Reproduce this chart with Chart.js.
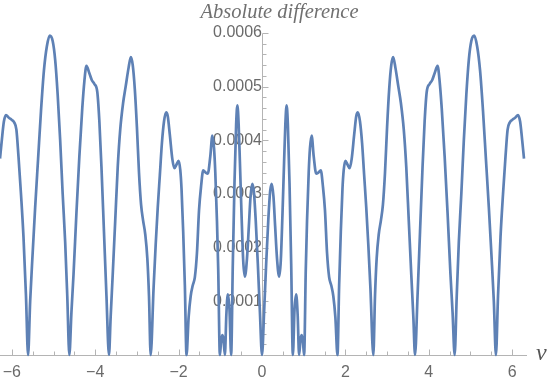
<!DOCTYPE html>
<html>
<head>
<meta charset="utf-8">
<title>Absolute difference</title>
<script src="https://cdn.jsdelivr.net/npm/chart.js@4.4.1/dist/chart.umd.min.js"></script>
<style>
  html, body { margin: 0; padding: 0; background: #ffffff; }
  canvas { display: block; }
</style>
</head>
<body>
<canvas id="graf" width="552" height="382"></canvas>
<script>
// nu values (x) and the absolute difference (y)
const nu = [
  -6.283, -6.24, -6.19, -6.14, -6.07, -6.00, -5.94, -5.89, -5.84, -5.78, -5.72, -5.66,
  -5.61, -5.56, -5.50, -5.44, -5.37, -5.30, -5.23, -5.16, -5.09, -5.02, -4.96, -4.90,
  -4.84, -4.78, -4.72, -4.67, -4.62, -4.57, -4.52, -4.45, -4.38, -4.31, -4.26, -4.21,
  -4.14, -4.08, -4.02, -3.95, -3.90, -3.85, -3.79, -3.73, -3.67, -3.63, -3.58, -3.52,
  -3.46, -3.40, -3.33, -3.27, -3.20, -3.145, -3.10, -3.05, -3.00, -2.95, -2.90, -2.85,
  -2.80, -2.75, -2.71, -2.67, -2.60, -2.55, -2.50, -2.45, -2.40, -2.35, -2.30, -2.26,
  -2.21, -2.15, -2.10, -2.05, -2.00, -1.96, -1.93, -1.89, -1.85, -1.81, -1.76, -1.71,
  -1.66, -1.61, -1.56, -1.51, -1.46, -1.41, -1.35, -1.30, -1.24, -1.19, -1.15, -1.12,
  -1.08, -1.05, -1.01, -0.985, -0.955, -0.925, -0.89, -0.855, -0.82, -0.78, -0.74, -0.70,
  -0.66, -0.62, -0.59, -0.56, -0.53, -0.49, -0.45, -0.41, -0.36, -0.315, -0.275, -0.235,
  -0.195, -0.15, -0.10, -0.05,
  0,
  0.05, 0.10, 0.15, 0.195, 0.235, 0.275, 0.315, 0.36, 0.41, 0.45, 0.49, 0.53,
  0.56, 0.59, 0.62, 0.66, 0.70, 0.74, 0.78, 0.82, 0.855, 0.89, 0.925, 0.955,
  0.985, 1.01, 1.05, 1.08, 1.12, 1.15, 1.19, 1.24, 1.30, 1.35, 1.41, 1.46,
  1.51, 1.56, 1.61, 1.66, 1.71, 1.76, 1.81, 1.85, 1.89, 1.93, 1.96, 2.00,
  2.05, 2.10, 2.15, 2.21, 2.26, 2.30, 2.35, 2.40, 2.45, 2.50, 2.55, 2.60,
  2.67, 2.71, 2.75, 2.80, 2.85, 2.90, 2.95, 3.00, 3.05, 3.10, 3.145, 3.20,
  3.27, 3.33, 3.40, 3.46, 3.52, 3.58, 3.63, 3.67, 3.73, 3.79, 3.85, 3.90,
  3.95, 4.02, 4.08, 4.14, 4.21, 4.26, 4.31, 4.38, 4.45, 4.52, 4.57, 4.62,
  4.67, 4.72, 4.78, 4.84, 4.90, 4.96, 5.02, 5.09, 5.16, 5.23, 5.30, 5.37,
  5.44, 5.50, 5.56, 5.61, 5.66, 5.72, 5.78, 5.84, 5.89, 5.94, 6.00, 6.07,
  6.14, 6.19, 6.24, 6.283
];

const absDiff = [
  3.66e-4, 4.00e-4, 4.35e-4, 4.47e-4, 4.42e-4, 4.38e-4, 4.33e-4, 4.20e-4, 3.70e-4, 3.00e-4, 2.20e-4, 1.10e-4,
  0, 1.00e-4, 1.90e-4, 2.75e-4, 3.65e-4, 4.55e-4, 5.30e-4, 5.75e-4, 5.95e-4, 5.85e-4, 5.50e-4, 4.85e-4,
  4.00e-4, 3.00e-4, 2.10e-4, 1.10e-4, 0, 0.80e-4, 1.50e-4, 2.65e-4, 3.70e-4, 4.60e-4, 5.10e-4, 5.39e-4,
  5.25e-4, 5.12e-4, 5.05e-4, 4.90e-4, 4.35e-4, 3.50e-4, 2.30e-4, 1.10e-4, 0, 0.70e-4, 1.50e-4, 2.50e-4,
  3.50e-4, 4.20e-4, 4.70e-4, 5.00e-4, 5.35e-4, 5.55e-4, 5.40e-4, 4.95e-4, 4.25e-4, 3.40e-4, 2.80e-4, 2.50e-4,
  2.25e-4, 1.80e-4, 1.10e-4, 0, 1.25e-4, 2.05e-4, 2.75e-4, 3.35e-4, 3.95e-4, 4.35e-4, 4.52e-4, 4.45e-4,
  4.10e-4, 3.65e-4, 3.48e-4, 3.55e-4, 3.62e-4, 3.45e-4, 3.10e-4, 2.30e-4, 1.30e-4, 0, 0.70e-4, 1.10e-4,
  1.30e-4, 1.45e-4, 1.90e-4, 2.70e-4, 3.15e-4, 3.44e-4, 3.40e-4, 3.38e-4, 3.70e-4, 4.09e-4, 3.85e-4, 3.40e-4,
  2.50e-4, 1.60e-4, 0, 0.22e-4, 0.37e-4, 0.30e-4, 0, 0.75e-4, 1.13e-4, 0.85e-4, 0, 1.70e-4,
  3.20e-4, 4.30e-4, 4.65e-4, 4.30e-4, 3.60e-4, 2.60e-4, 1.75e-4, 1.46e-4, 1.80e-4, 2.40e-4, 2.95e-4, 3.19e-4,
  3.05e-4, 2.50e-4, 1.70e-4, 0.80e-4,
  0,
  0.80e-4, 1.70e-4, 2.50e-4, 3.05e-4, 3.19e-4, 2.95e-4, 2.40e-4, 1.80e-4, 1.46e-4, 1.75e-4, 2.60e-4, 3.60e-4,
  4.30e-4, 4.65e-4, 4.30e-4, 3.20e-4, 1.70e-4, 0, 0.85e-4, 1.13e-4, 0.75e-4, 0, 0.30e-4, 0.37e-4,
  0.22e-4, 0, 1.60e-4, 2.50e-4, 3.40e-4, 3.85e-4, 4.09e-4, 3.70e-4, 3.38e-4, 3.40e-4, 3.44e-4, 3.15e-4,
  2.70e-4, 1.90e-4, 1.45e-4, 1.30e-4, 1.10e-4, 0.70e-4, 0, 1.30e-4, 2.30e-4, 3.10e-4, 3.45e-4, 3.62e-4,
  3.55e-4, 3.48e-4, 3.65e-4, 4.10e-4, 4.45e-4, 4.52e-4, 4.35e-4, 3.95e-4, 3.35e-4, 2.75e-4, 2.05e-4, 1.25e-4,
  0, 1.10e-4, 1.80e-4, 2.25e-4, 2.50e-4, 2.80e-4, 3.40e-4, 4.25e-4, 4.95e-4, 5.40e-4, 5.55e-4, 5.35e-4,
  5.00e-4, 4.70e-4, 4.20e-4, 3.50e-4, 2.50e-4, 1.50e-4, 0.70e-4, 0, 1.10e-4, 2.30e-4, 3.50e-4, 4.35e-4,
  4.90e-4, 5.05e-4, 5.12e-4, 5.25e-4, 5.39e-4, 5.10e-4, 4.60e-4, 3.70e-4, 2.65e-4, 1.50e-4, 0.80e-4, 0,
  1.10e-4, 2.10e-4, 3.00e-4, 4.00e-4, 4.85e-4, 5.50e-4, 5.85e-4, 5.95e-4, 5.75e-4, 5.30e-4, 4.55e-4, 3.65e-4,
  2.75e-4, 1.90e-4, 1.00e-4, 0, 1.10e-4, 2.20e-4, 3.00e-4, 3.70e-4, 4.20e-4, 4.33e-4, 4.38e-4, 4.42e-4,
  4.47e-4, 4.35e-4, 4.00e-4, 3.66e-4
];

const nuTicks = [-6, -4, -2, 0, 2, 4, 6];
const diffTicks = [0.0001, 0.0002, 0.0003, 0.0004, 0.0005, 0.0006];
const nuRange = [-2 * Math.PI, 2 * Math.PI];
const diffRange = [0, 0.0006];
const tittel = "Absolute difference";

const linjeFarge = "#5e81b5";
const aksefarge = "#b4b4b4";
const tekstFarge = "#6a6a6a";
const serif = '"Liberation Serif", "DejaVu Serif", serif';

// akser med små og store streker, tittel og aksenavn
const akser = {
  id: "akser",
  beforeDatasetsDraw(chart) {
    const { ctx, chartArea, scales } = chart;
    const xs = scales.x;
    const ys = scales.y;
    const y0 = Math.round(ys.getPixelForValue(0)) + 0.5;
    const x0 = Math.round(xs.getPixelForValue(0)) + 0.5;
    const yTopp = ys.getPixelForValue(diffRange[1]);

    ctx.save();
    ctx.strokeStyle = aksefarge;
    ctx.lineWidth = 1;
    ctx.beginPath();
    ctx.moveTo(chartArea.left, y0);
    ctx.lineTo(chartArea.right + 3, y0);
    ctx.moveTo(x0, y0);
    ctx.lineTo(x0, Math.round(yTopp) + 0.5);

    // x-streker hver 0.5, store ved hvert andre heltall
    for (let v = -6; v <= 6.001; v += 0.5) {
      const px = Math.round(xs.getPixelForValue(v)) + 0.5;
      const lang = Math.abs(v % 2) < 1e-9;
      ctx.moveTo(px, y0);
      ctx.lineTo(px, y0 - (lang ? 6 : 4));
    }
    // y-streker hver 0.00002, store ved hver 0.0001
    for (let i = 1; i <= 30; i++) {
      const py = Math.round(ys.getPixelForValue(i * 0.00002)) + 0.5;
      const lang = i % 5 === 0;
      ctx.moveTo(x0, py);
      ctx.lineTo(x0 + (lang ? 6 : 4), py);
    }
    ctx.stroke();

    // aksenavn nu til høyre for x-aksen
    ctx.fillStyle = "#555555";
    ctx.font = "italic 24px " + serif;
    ctx.textAlign = "left";
    ctx.textBaseline = "alphabetic";
    ctx.fillText("\u03bd", chartArea.right + 12, y0 + 4);

    // tittel over plottet
    ctx.fillStyle = "#707070";
    ctx.font = "italic 20.5px " + serif;
    ctx.textAlign = "center";
    ctx.fillText(tittel, x0 + 17, 18);
    ctx.restore();
  },
};

const punkter = nu.map((x, i) => ({ x: x, y: absDiff[i] }));

new Chart(document.getElementById("graf").getContext("2d"), {
  type: "line",
  data: {
    datasets: [
      {
        data: punkter,
        borderColor: linjeFarge,
        borderWidth: 2.7,
        pointRadius: 0,
        fill: false,
        cubicInterpolationMode: "monotone",
        clip: 3,
      },
    ],
  },
  options: {
    responsive: false,
    animation: false,
    events: [],
    layout: { padding: { left: 0, right: 28, top: 33, bottom: 0 } },
    plugins: {
      legend: { display: false },
      tooltip: { enabled: false },
      title: { display: false },
    },
    scales: {
      x: {
        type: "linear",
        min: nuRange[0],
        max: nuRange[1],
        grid: { display: false, drawTicks: false },
        border: { display: false },
        afterBuildTicks: (s) => {
          s.ticks = nuTicks.map((v) => ({ value: v }));
        },
        afterFit: (s) => {
          s.height = 27;
          s.paddingLeft = 0;
          s.paddingRight = 0;
        },
        ticks: {
          autoSkip: false,
          maxRotation: 0,
          padding: 8,
          color: tekstFarge,
          font: { family: '"Liberation Sans", Arial, sans-serif', size: 16 },
          callback: (v) => (v < 0 ? "\u2212" + Math.abs(v) : String(v)),
        },
      },
      y: {
        type: "linear",
        min: diffRange[0],
        max: diffRange[1],
        position: { x: 0 },
        grid: { display: false, drawTicks: false },
        border: { display: false },
        afterBuildTicks: (s) => {
          s.ticks = diffTicks.map((v) => ({ value: v }));
        },
        afterFit: (s) => {
          s.paddingLeft = 0;
          s.paddingRight = 0;
        },
        ticks: {
          autoSkip: false,
          padding: 4,
          color: tekstFarge,
          font: { family: '"Liberation Sans", Arial, sans-serif', size: 16 },
          callback: (v) => v.toFixed(4),
        },
      },
    },
  },
  plugins: [akser],
});
</script>
</body>
</html>
